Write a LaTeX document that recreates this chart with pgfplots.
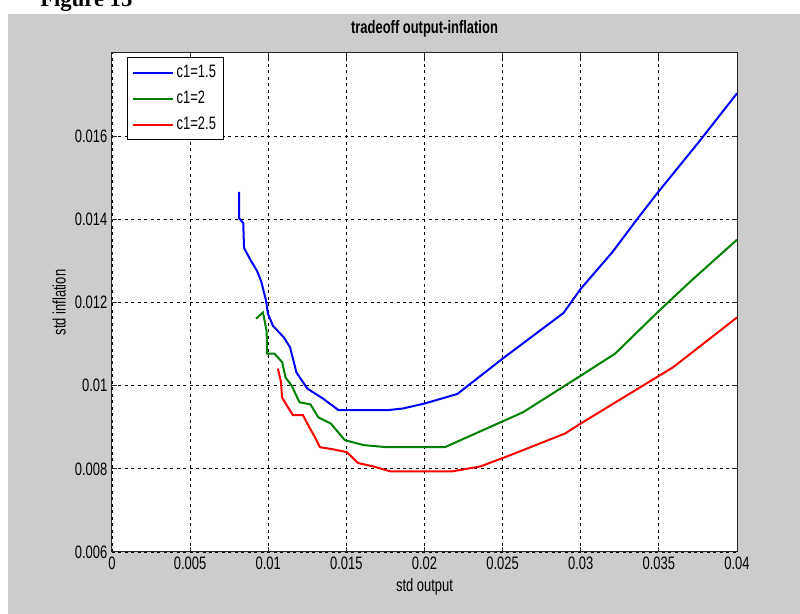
\documentclass[border=0pt]{standalone}
\usepackage{pgfplots}
\pgfplotsset{compat=1.18}
\usepackage{fontspec}
\setmainfont{Liberation Sans}[FakeStretch=0.72]
\newfontfamily\figfont{Liberation Serif}
\definecolor{mgray}{RGB}{204,204,204}
\definecolor{mgreen}{RGB}{0,128,0}
\begin{document}
\begin{tikzpicture}[x=0.75pt,y=0.75pt]
\useasboundingbox (0,0) rectangle (800,614);
\clip (0,0) rectangle (800,614);
\fill[white] (0,0) rectangle (800,614);
\fill[mgray] (8,0) rectangle (800,600);
\node[anchor=base west,inner sep=0pt,font=\figfont\bfseries\fontsize{17pt}{20pt}\selectfont] at (40,607) {Figure 15};
\begin{axis}[
  at={(84pt,46.5pt)}, anchor=south west,
  width=468.75pt, height=374.25pt, scale only axis,
  xmin=0, xmax=0.04, ymin=0.006, ymax=0.018,
  xtick={0,0.005,0.01,0.015,0.02,0.025,0.03,0.035,0.04},
  xticklabels={0,0.005,0.01,0.015,0.02,0.025,0.03,0.035,0.04},
  ytick={0.006,0.008,0.01,0.012,0.014,0.016},
  yticklabels={0.006,0.008,0.01,0.012,0.014,0.016},
  scaled ticks=false,
  grid=major,
  major grid style={black, line width=0.6pt, dash pattern=on 2.25pt off 2.6pt},
  axis line style={black!85, line width=0.75pt},
  major tick length=3.75pt,
  tick style={black!85, line width=0.75pt},
  tick label style={font=\fontsize{13.5pt}{15pt}\selectfont},
  label style={font=\fontsize{13.5pt}{15pt}\selectfont},
  title style={font=\bfseries\fontsize{13.5pt}{15pt}\selectfont, yshift=2pt},
  title={tradeoff output-inflation},
  xlabel={std output},
  ylabel={std inflation},
  axis background/.style={fill=white},
  legend style={at={(rel axis cs:0.024,0.992)}, anchor=north west, draw=black, line width=0.6pt,
    fill=white, font=\fontsize{13.5pt}{15pt}\selectfont, inner xsep=3.5pt, inner ysep=4pt, row sep=4.6pt,
    cells={anchor=west}},
  legend image code/.code={\draw[#1] (0pt,0pt) -- (30pt,0pt);},
  every axis plot/.append style={line width=1.5pt},
]
\addplot[blue] coordinates {
(0.00813,0.01466)(0.00813,0.01403)(0.0084,0.01391)(0.00845,0.01331)(0.0089,0.01300)
(0.00928,0.01276)(0.00954,0.01252)(0.00986,0.01204)(0.00998,0.01173)(0.0103,0.01144)
(0.0110,0.01116)(0.0114,0.01092)(0.0118,0.01032)(0.0125,0.00993)(0.0135,0.00969)
(0.0145,0.00941)(0.0176,0.00941)(0.0186,0.00945)(0.0200,0.00957)(0.0221,0.00980)
(0.0250,0.01065)(0.0289,0.01175)(0.0300,0.01233)(0.0320,0.0132)(0.0336,0.0140)
(0.0349,0.01463)(0.0376,0.01588)(0.04,0.01703)};
\addlegendentry{c1=1.5}
\addplot[mgreen] coordinates {
(0.00922,0.01161)(0.00966,0.01176)(0.00975,0.01160)(0.00990,0.01130)(0.00992,0.01077)
(0.0104,0.01077)(0.0109,0.01056)(0.0111,0.0102)(0.0115,0.0100)(0.0120,0.0096)
(0.0127,0.00955)(0.0132,0.00924)(0.0140,0.00909)(0.0149,0.00869)(0.0161,0.00857)
(0.0176,0.00852)(0.0213,0.00852)(0.0263,0.00936)(0.0300,0.01024)(0.0322,0.01077)
(0.0349,0.01176)(0.0370,0.0125)(0.04,0.01351)};
\addlegendentry{c1=2}
\addplot[red] coordinates {
(0.01062,0.01041)(0.01082,0.01008)(0.01088,0.00972)(0.01126,0.00948)(0.01158,0.00929)
(0.01222,0.00929)(0.01267,0.00897)(0.01299,0.00876)(0.01331,0.00852)(0.01414,0.00847)
(0.01504,0.0084)(0.01574,0.00814)(0.0167,0.00806)(0.0178,0.00794)(0.0218,0.00794)
(0.0236,0.00806)(0.0255,0.00833)(0.0290,0.00885)(0.0300,0.00909)(0.0338,0.00996)
(0.0359,0.01044)(0.04,0.01164)};
\addlegendentry{c1=2.5}
\end{axis}
\end{tikzpicture}
\end{document}
